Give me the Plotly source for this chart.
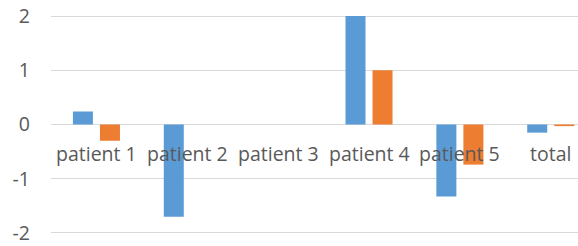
import plotly.graph_objects as go

categories = ["patient 1", "patient 2", "patient 3", "patient 4", "patient 5", "total"]
series_a = [0.24, -1.70, 0.0, 2.0, -1.33, -0.15]
series_b = [-0.30, 0.0, 0.0, 1.0, -0.74, -0.03]
y_tick_vals = [-2, -1, 0, 1, 2]
y_tick_text = ["-2", "-1", "0", "1", "2"]

FONT = "Open Sans"
TXT = "#595959"

fig = go.Figure()
fig.add_trace(go.Bar(x=categories, y=series_a, name="A",
                     marker=dict(color="#5B9BD5", line=dict(width=0))))
fig.add_trace(go.Bar(x=categories, y=series_b, name="B",
                     marker=dict(color="#ED7D31", line=dict(width=0))))

for c in categories:
    fig.add_annotation(x=c, y=0, xref="x", yref="y", text=c, showarrow=False,
                       yanchor="middle", yshift=-29,
                       font=dict(family=FONT, size=19.5, color=TXT))

fig.update_layout(
    width=578, height=246,
    margin=dict(l=51, r=0, t=15, b=9),
    paper_bgcolor="white", plot_bgcolor="white",
    showlegend=False, hovermode=False,
    barmode="group", bargap=0.405, bargroupgap=0.26,
    xaxis=dict(type="category", range=[-0.5, 5.3], showticklabels=False,
               showgrid=False, zeroline=False, showline=False),
    yaxis=dict(range=[-2.02, 2.02], tickvals=y_tick_vals, ticktext=y_tick_text,
               showgrid=True, gridcolor="#D9D9D9", gridwidth=1,
               zeroline=True, zerolinecolor="#D9D9D9", zerolinewidth=1,
               showline=False, ticks="", ticklabelstandoff=20,
               ticklabeloverflow="allow",
               tickfont=dict(family=FONT, size=19.5, color=TXT)),
)

fig.write_html("out.html", config={"displayModeBar": False, "staticPlot": True},
               post_script="document.body.style.margin='0';")
